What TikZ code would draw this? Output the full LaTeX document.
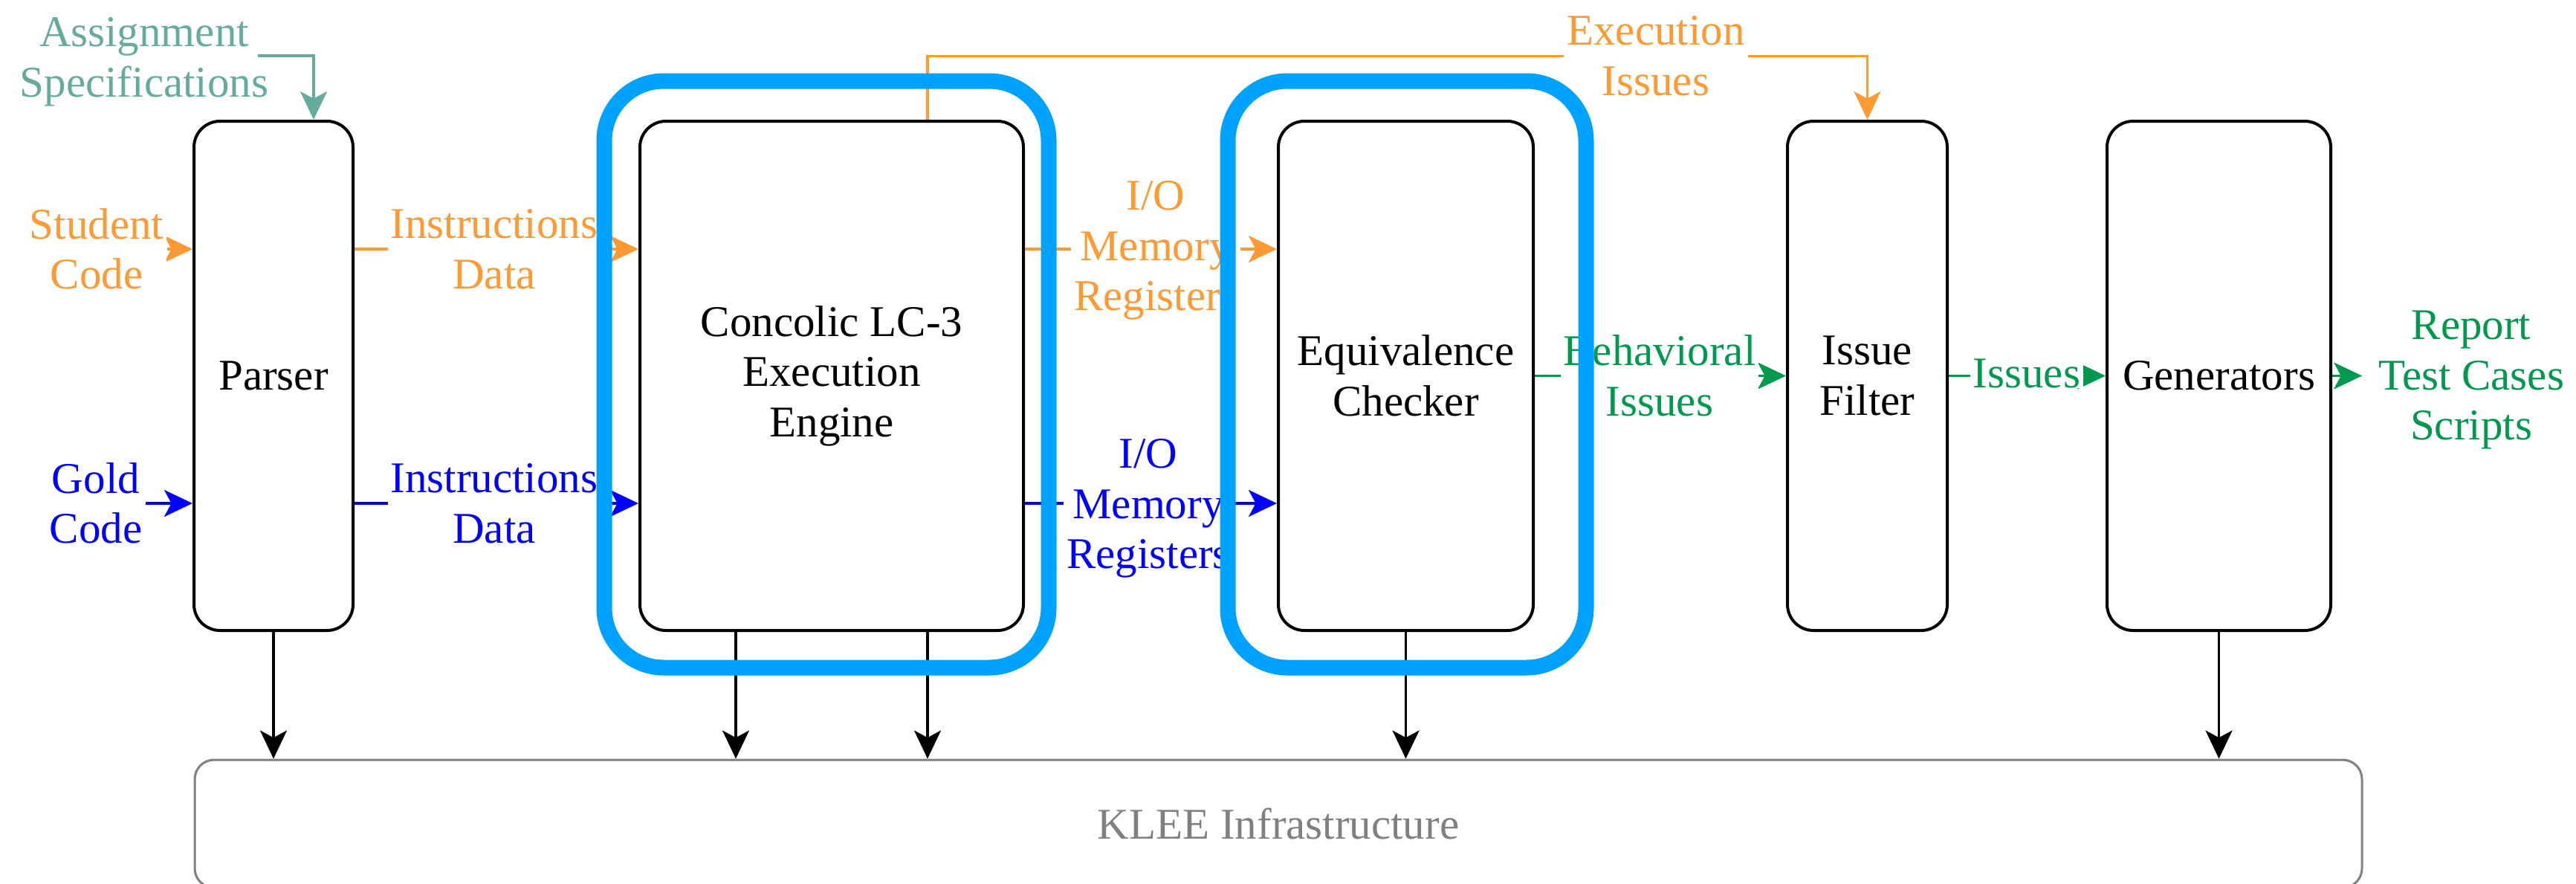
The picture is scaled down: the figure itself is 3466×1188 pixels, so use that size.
\documentclass[tikz,border=0pt]{standalone}
\usepackage{fontspec}
\setmainfont{Liberation Serif}
\usetikzlibrary{arrows.meta}

\definecolor{cOrange}{HTML}{FF9933}
\definecolor{cTeal}{HTML}{67AB9F}
\definecolor{cBlue}{HTML}{0000FF}
\definecolor{cGreen}{HTML}{00994D}
\definecolor{cFrame}{HTML}{00A2FF}
\definecolor{cGray}{HTML}{808080}

\pgfdeclarelayer{links}
\pgfdeclarelayer{frames}
\pgfsetlayers{links,main,frames}

\begin{document}
\begin{tikzpicture}[x=0.25pt,y=-0.25pt,
  font=\fontsize{14.75}{16.9}\selectfont,
  >={Stealth[length=9.5pt,width=9pt,inset=2.4pt]},
  block/.style={draw=black,line width=1pt,rounded corners=8.75pt,
    minimum height=171.25pt,align=center,inner sep=0pt},
  frame/.style={draw=cFrame,line width=5.25pt,rounded corners=20pt,
    minimum height=197.25pt,inner sep=0pt},
  lab/.style={align=center,inner xsep=1pt,inner ysep=0pt,fill=white},
  link/.style={line width=0.85pt,->},
]
\useasboundingbox (0,0) rectangle (3466,1188);
\begin{pgfonlayer}{links}
  \fill[white] (0,0) rectangle (3466,1188);
\end{pgfonlayer}

% processing stages
\node[block,minimum width=53.5pt]  (parser) at (368,505.5)    {Parser};
\node[block,minimum width=129pt]   (conc)   at (1119,505.5)   {Concolic LC-3\\Execution\\Engine};
\node[block,minimum width=85.75pt] (equiv)  at (1891.5,505.5) {Equivalence\\Checker};
\node[block,minimum width=53.75pt] (filter) at (2512.5,505.5) {Issue\\Filter};
\node[block,minimum width=75.25pt] (gen)    at (2985.5,505.5) {Generators};

% shared infrastructure
\node[draw=cGray,line width=0.75pt,rounded corners=6.5pt,text=cGray,
      minimum width=729pt,minimum height=43pt,inner sep=0pt]
      (klee) at (1720,1108) {KLEE Infrastructure};

% inputs and edge labels
\node[align=center,inner sep=0pt,text=cTeal] (spec) at (194,83) {Assignment\\Specifications};
\coordinate (specend) at (347,75);
\node[lab,text=cOrange] (stud)  at (130,335)    {Student\\Code};
\node[lab,text=cBlue]   (gold)  at (129,677)    {Gold\\Code};
\node[lab,text=cOrange] (instO) at (665,335)    {Instructions\\Data};
\node[lab,text=cBlue]   (instB) at (665,677)    {Instructions\\Data};
\node[lab,text=cOrange] (ioO)   at (1555,337)   {I/O\\Memory\\Registers};
\node[lab,text=cBlue]   (ioB)   at (1545,684)   {I/O\\Memory\\Registers};
\node[lab,text=cOrange] (exec)  at (2228,75.5)  {Execution\\Issues};
\node[lab,text=cGreen]  (behav) at (2233,505.5) {Behavioral\\Issues};
\node[lab,text=cGreen]  (iss)   at (2727,502)   {Issues};
\node[lab,text=cGreen,outer xsep=4.5pt] (report) at (3325,511) {Report\\Test Cases\\Scripts};

\begin{pgfonlayer}{links}
  \draw[link,cTeal]   (specend) -| (parser.north -| 422,0);
  \draw[link,cOrange] (stud.east) -- (parser.west |- stud.east);
  \draw[link,cBlue]   (gold.east) -- (parser.west |- gold.east);
  \draw[link,cOrange] (parser.east |- instO) -- (conc.west |- instO);
  \draw[link,cBlue]   (parser.east |- instB) -- (conc.west |- instB);
  \draw[link,cOrange] (conc.east |- instO) -- (equiv.west |- instO);
  \draw[link,cBlue]   (conc.east |- instB) -- (equiv.west |- instB);
  \draw[link,cOrange] (conc.north -| 1248,0) |- (exec) -| (filter.north);
  \draw[link,cGreen]  (equiv.east) -- (filter.west);
  \draw[link,cGreen]  (filter.east) -- (gen.west);
  \draw[link,cGreen]  (gen.east) -- (report.west |- gen.east);
  % calls into KLEE
  \draw[link,black] (parser.south) -- (klee.north -| parser.south);
  \draw[link,black] (conc.south -| 990,0) -- (klee.north -| 990,0);
  \draw[link,black] (conc.south -| 1248,0) -- (klee.north -| 1248,0);
  \draw[link,black] (equiv.south) -- (klee.north -| equiv.south);
  \draw[link,black] (gen.south) -- (klee.north -| gen.south);
\end{pgfonlayer}

% highlighted components
\begin{pgfonlayer}{frames}
  \node[frame,minimum width=149.5pt] (concframe)  at (1112,503.5) {};
  \node[frame,minimum width=120.5pt] (equivframe) at (1893,503.5) {};
\end{pgfonlayer}
\end{tikzpicture}
\end{document}
